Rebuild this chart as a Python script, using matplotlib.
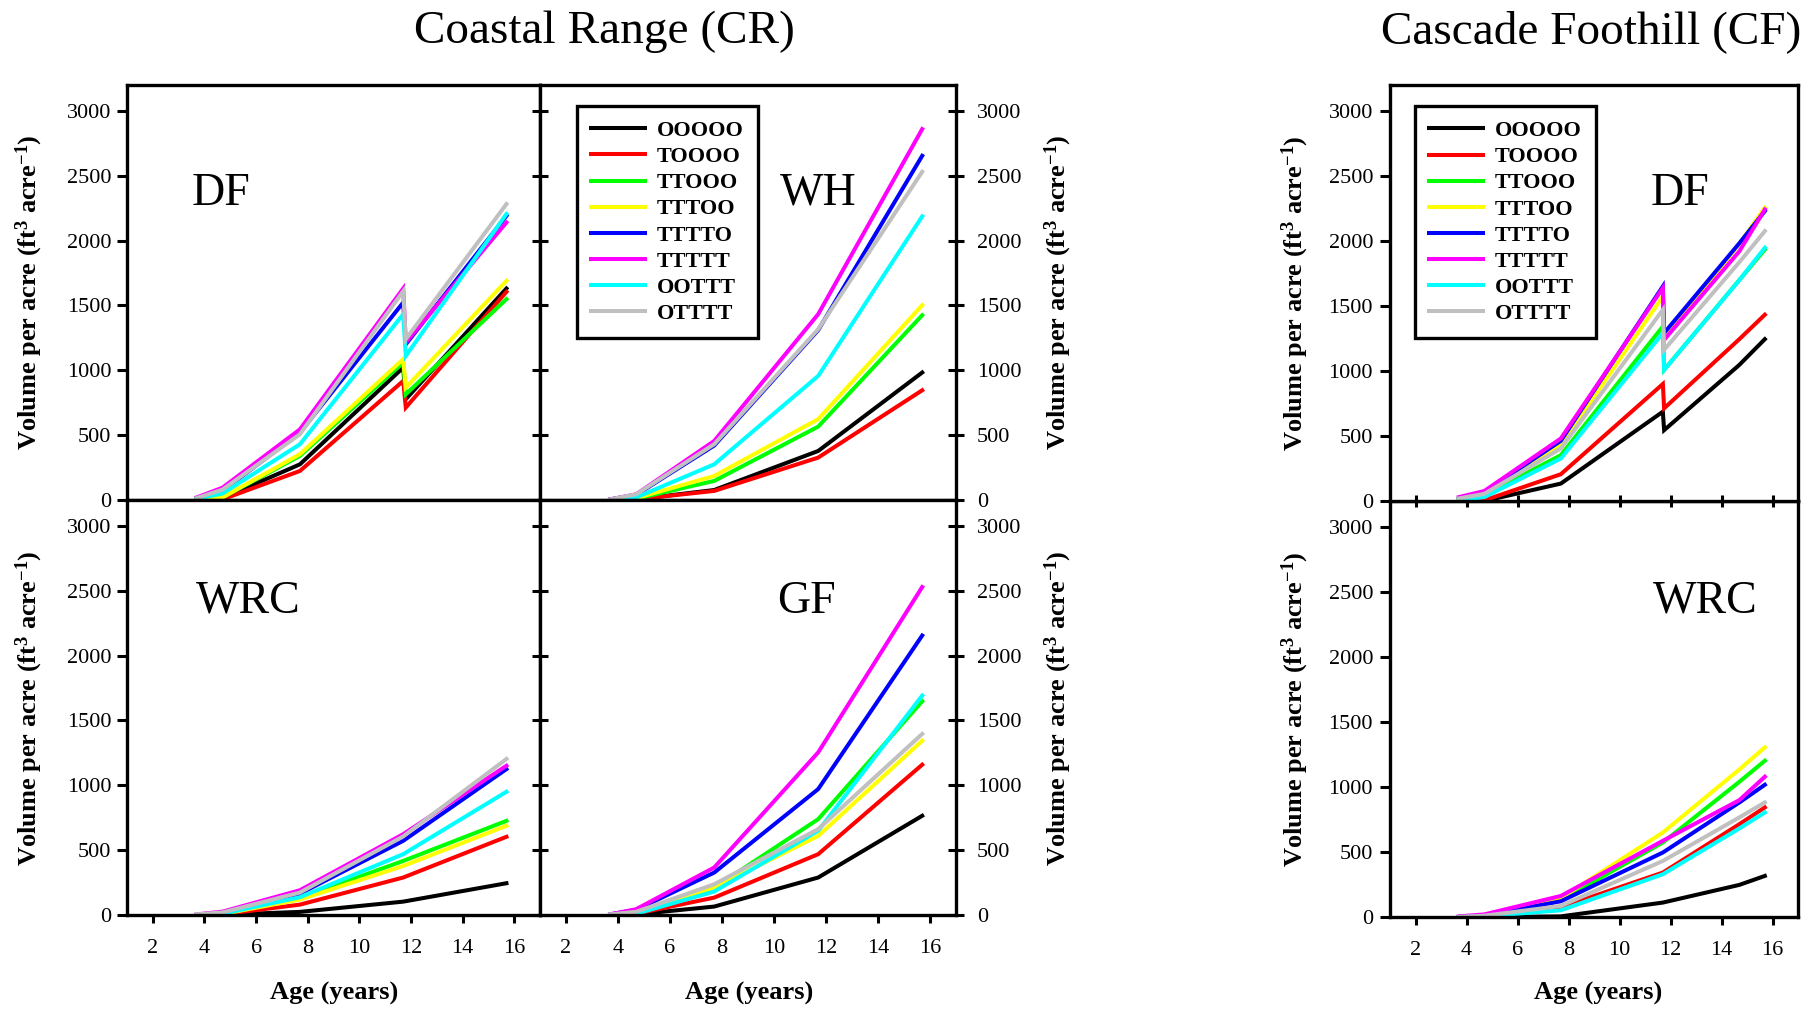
import matplotlib
matplotlib.use('Agg')
import matplotlib.pyplot as plt
from matplotlib.lines import Line2D

plt.rcParams['font.family'] = ['Liberation Serif', 'DejaVu Serif']
plt.rcParams['mathtext.fontset'] = 'custom'
plt.rcParams['mathtext.rm'] = 'Liberation Serif:bold'
plt.rcParams['mathtext.it'] = 'Liberation Serif:bold'
plt.rcParams['mathtext.bf'] = 'Liberation Serif:bold'
plt.rcParams['mathtext.default'] = 'rm'

# ---------------- data ----------------
series = ['OOOOO', 'TOOOO', 'TTOOO', 'TTTOO', 'TTTTO', 'TTTTT', 'OOTTT', 'OTTTT']
colors = ['#000000', '#FF0000', '#00FF00', '#FFFF00', '#0000FF', '#FF00FF', '#00FFFF', '#C0C0C0']

x_ticks = [2, 4, 6, 8, 10, 12, 14, 16]
y_ticks = [0, 500, 1000, 1500, 2000, 2500, 3000]

# Coastal Range - Douglas-fir (thinning drop at age ~11.7)
cr_df_age = [3.7, 4.7, 7.7, 11.7, 11.8, 15.7]
cr_df = [
    [5, 15, 275, 1021, 777, 1631],
    [0, 5, 224, 918, 713, 1605],
    [5, 20, 340, 1060, 815, 1549],
    [5, 20, 353, 1086, 867, 1690],
    [15, 70, 520, 1523, 1200, 2191],
    [20, 95, 545, 1631, 1215, 2140],
    [10, 50, 430, 1433, 1111, 2205],
    [15, 80, 507, 1610, 1240, 2282],
]

# Coastal Range - Western hemlock
cr_wh_age = [3.7, 4.7, 7.7, 11.7, 15.7]
cr_wh = [
    [0, 5, 77, 378, 983],
    [0, 5, 70, 327, 846],
    [0, 10, 147, 566, 1425],
    [0, 15, 185, 623, 1502],
    [5, 40, 420, 1310, 2654],
    [5, 44, 455, 1433, 2860],
    [0, 20, 275, 957, 2187],
    [5, 44, 430, 1317, 2531],
]

# Coastal Range - Western redcedar
cr_wrc_age = [3.7, 4.7, 7.7, 11.7, 15.7]
cr_wrc = [
    [0, 2, 24, 103, 245],
    [0, 5, 80, 289, 603],
    [0, 8, 130, 417, 726],
    [0, 8, 119, 378, 688],
    [0, 15, 165, 572, 1125],
    [5, 26, 191, 623, 1151],
    [0, 10, 137, 469, 950],
    [5, 20, 173, 606, 1203],
]

# Coastal Range - Grand fir
cr_gf_age = [3.7, 4.7, 7.7, 11.7, 15.7]
cr_gf = [
    [0, 5, 65, 289, 765],
    [0, 10, 134, 469, 1159],
    [0, 15, 211, 739, 1648],
    [0, 15, 211, 610, 1344],
    [5, 40, 327, 971, 2155],
    [5, 45, 366, 1254, 2529],
    [0, 10, 181, 650, 1692],
    [5, 25, 237, 662, 1396],
]

# Cascade Foothill - Douglas-fir
cf_df_age = [3.7, 4.7, 7.7, 11.7, 11.75, 14.7, 15.7]
cf_df = [
    [0, 0, 134, 687, 545, 1047, 1245],
    [5, 5, 206, 900, 713, 1245, 1433],
    [10, 45, 353, 1343, 1009, 1700, 1934],
    [15, 60, 430, 1574, 1240, 1980, 2256],
    [20, 69, 463, 1651, 1292, 1983, 2230],
    [30, 77, 481, 1639, 1240, 1921, 2243],
    [5, 30, 327, 1292, 1009, 1700, 1948],
    [20, 55, 404, 1471, 1163, 1837, 2076],
]

# Cascade Foothill - Western redcedar
cf_wrc_age = [3.7, 4.7, 7.7, 11.7, 14.7, 15.7]
cf_wrc = [
    [0, 0, 5, 111, 247, 316],
    [0, 5, 75, 342, 714, 843],
    [0, 10, 130, 573, 1040, 1202],
    [0, 10, 145, 650, 1135, 1305],
    [0, 10, 121, 496, 881, 1017],
    [5, 20, 162, 586, 899, 1079],
    [0, 5, 52, 329, 681, 804],
    [0, 10, 85, 431, 766, 881],
]

ylabel = 'Volume per acre (ft$^{3}$ acre$^{-1}$)'
xlabel = 'Age (years)'

# ---------------- figure ----------------
W, H = 1810, 1010
fig = plt.figure(figsize=(W / 100, H / 100), dpi=100)


def add_ax(x0, y0, x1, y1):
    return fig.add_axes([x0 / W, 1 - y1 / H, (x1 - x0) / W, (y1 - y0) / H])


def base(ax, age, data):
    for vals, c in zip(data, colors):
        ax.plot(age, vals, color=c, lw=2.9, solid_joinstyle='miter')
    ax.set_xlim(1, 17)
    ax.set_ylim(0, 3200)
    ax.set_xticks(x_ticks)
    ax.set_yticks(y_ticks)
    for s in ax.spines.values():
        s.set_linewidth(2.4)
    ax.tick_params(width=2.2, labelsize=16)


def panel_label(ax, txt, fx, fy):
    ax.text(fx, fy, txt, transform=ax.transAxes, ha='left', va='baseline', fontsize=33)


def legend(ax, fx, fy):
    handles = [Line2D([0], [0], color=c, lw=2.9) for c in colors]
    leg = ax.legend(handles, series, loc='upper left', bbox_to_anchor=(fx, fy),
                    borderaxespad=0, frameon=True, fancybox=False, edgecolor='black',
                    framealpha=1, prop={'weight': 'bold', 'size': 16},
                    handlelength=2.4, handletextpad=0.55, labelspacing=0.25,
                    borderpad=0.65)
    leg.get_frame().set_linewidth(2.4)


# CR left column
ax1 = add_ax(127, 85, 540, 500)
base(ax1, cr_df_age, cr_df)
ax1.tick_params(axis='y', left=True, right=False, labelleft=True, direction='out', length=7.2, pad=4)
ax1.tick_params(axis='x', bottom=False, top=False, labelbottom=False)
panel_label(ax1, 'DF', 0.157, 0.711)

ax3 = add_ax(127, 500, 540, 915)
base(ax3, cr_wrc_age, cr_wrc)
ax3.tick_params(axis='y', left=True, right=False, labelleft=True, direction='out', length=7.2, pad=4)
ax3.tick_params(axis='x', bottom=True, top=False, labelbottom=True, direction='out', length=6, pad=11)
panel_label(ax3, 'WRC', 0.167, 0.728)

# CR right column
ax2 = add_ax(540, 85, 956, 500)
base(ax2, cr_wh_age, cr_wh)
ax2.tick_params(axis='y', left=True, right=True, labelleft=False, labelright=True, direction='inout', length=12, pad=9)
ax2.tick_params(axis='x', bottom=False, top=False, labelbottom=False)
panel_label(ax2, 'WH', 0.577, 0.711)
legend(ax2, 0.089, 0.949)

ax4 = add_ax(540, 500, 956, 915)
base(ax4, cr_gf_age, cr_gf)
ax4.tick_params(axis='y', left=True, right=True, labelleft=False, labelright=True, direction='inout', length=12, pad=9)
ax4.tick_params(axis='x', bottom=True, top=False, labelbottom=True, direction='out', length=6, pad=11)
panel_label(ax4, 'GF', 0.570, 0.728)

# CF column
ax6 = add_ax(1390, 501, 1798, 917)
base(ax6, cf_wrc_age, cf_wrc)
ax6.tick_params(axis='y', left=True, right=False, labelleft=True, direction='out', length=7.2, pad=5)
ax6.tick_params(axis='x', bottom=True, top=False, labelbottom=True, direction='out', length=6, pad=11)
panel_label(ax6, 'WRC', 0.645, 0.731)

ax5 = add_ax(1390, 85, 1798, 501)
base(ax5, cf_df_age, cf_df)
ax5.tick_params(axis='y', left=True, right=False, labelleft=True, direction='out', length=7.2, pad=5)
ax5.tick_params(axis='x', bottom=True, top=False, labelbottom=False, direction='inout', length=9)
panel_label(ax5, 'DF', 0.640, 0.711)
legend(ax5, 0.061, 0.949)

# axis titles
for (xc, yc) in [(29, 292), (29, 708), (1058, 292), (1058, 708), (1295, 293), (1295, 709)]:
    fig.text(xc / W, 1 - yc / H, ylabel, rotation=90, ha='center', va='center',
             fontsize=19, fontweight='bold')
for xc in [334, 749, 1598]:
    fig.text(xc / W, 1 - 993 / H, xlabel, ha='center', va='center', fontsize=19, fontweight='bold')

fig.text(604 / W, 1 - 43 / H, 'Coastal Range (CR)', ha='center', va='baseline', fontsize=34)
fig.text(1591 / W, 1 - 43 / H, 'Cascade Foothill (CF)', ha='center', va='baseline', fontsize=34)

fig.savefig('out.png', dpi=100)
